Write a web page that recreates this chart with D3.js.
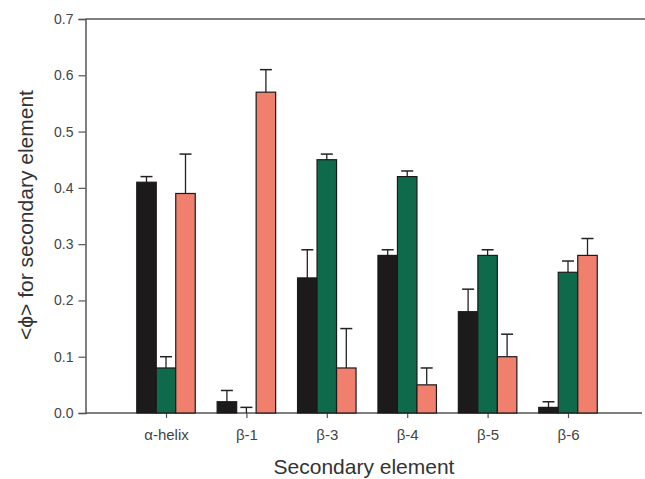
<!DOCTYPE html>
<html><head><meta charset="utf-8">
<script src="https://cdn.jsdelivr.net/npm/d3@7"></script>
<style>body{margin:0;background:#fff;}svg{display:block;font-family:Arial,"Liberation Sans",sans-serif;}</style>
</head><body><svg id="c" width="645" height="479"></svg>
<script>
const categories = ["α-helix","β-1","β-3","β-4","β-5","β-6"];
const seriesNames = ["black","green","salmon"];
const blackVals = [0.41,0.02,0.24,0.28,0.18,0.01];
const blackErr  = [0.01,0.02,0.05,0.01,0.04,0.01];
const greenVals = [0.08,0.00,0.45,0.42,0.28,0.25];
const greenErr  = [0.02,0.01,0.01,0.01,0.01,0.02];
const salmonVals = [0.39,0.57,0.08,0.05,0.10,0.28];
const salmonErr  = [0.07,0.04,0.07,0.03,0.04,0.03];
const yTicks = [0,0.1,0.2,0.3,0.4,0.5,0.6,0.7];
const colors = ["#1c1a1b","#0f6a4c","#f07f6e"];

(function(){
const svg = d3.select("#c");
const mLeft = 85.5, mTop = 19, mBottom = 413, mRight = 645;
const y = d3.scaleLinear().domain([0,0.7]).range([mBottom, mTop]);
const x = d3.scalePoint().domain(categories).range([166, 568]);
const bw = 19.5;
const series = [
  {vals: blackVals, err: blackErr},
  {vals: greenVals, err: greenErr},
  {vals: salmonVals, err: salmonErr}
];
const axisCol = "#555";

svg.append("line").attr("x1",mLeft).attr("x2",mRight).attr("y1",y(0.7)).attr("y2",y(0.7)).attr("stroke",axisCol).attr("stroke-width",1.5);
svg.append("line").attr("x1",mLeft).attr("x2",mRight-3).attr("y1",y(0)).attr("y2",y(0)).attr("stroke",axisCol).attr("stroke-width",1.5);

const ya = d3.axisLeft(y).tickValues(yTicks).tickFormat(d3.format(".1f")).tickSize(7).tickPadding(5);
const yg = svg.append("g").attr("transform",`translate(${mLeft},0)`).call(ya);
yg.select(".domain").attr("stroke",axisCol).attr("stroke-width",1.5);
yg.selectAll(".tick line").attr("stroke",axisCol).attr("stroke-width",1.2);
yg.selectAll("text").attr("fill","#444").style("font-size","14px");

const xa = d3.axisBottom(x).tickSize(5).tickPadding(8);
const xg = svg.append("g").attr("transform",`translate(0,${mBottom})`).call(xa);
xg.select(".domain").remove();
xg.selectAll(".tick line").attr("stroke",axisCol).attr("stroke-width",1.2);
xg.selectAll("text").attr("fill","#444").style("font-size","15px").attr("dy","0.95em");

series.forEach((s,si)=>{
  const g = svg.append("g");
  categories.forEach((c,i)=>{
    const cx = x(c) + (si-1)*bw;
    const v = s.vals[i], e = s.err[i];
    g.append("line").attr("x1",cx).attr("x2",cx).attr("y1",y(v)).attr("y2",y(v+e)).attr("stroke","#222").attr("stroke-width",1.3);
    g.append("line").attr("x1",cx-6).attr("x2",cx+6).attr("y1",y(v+e)).attr("y2",y(v+e)).attr("stroke","#222").attr("stroke-width",1.5);
    if (v > 0) {
      g.append("rect").attr("x",cx-bw/2).attr("width",bw).attr("y",y(v)).attr("height",y(0)-y(v))
        .attr("fill",colors[si]).attr("stroke","#1a1a1a").attr("stroke-width",1.2);
    }
  });
});

svg.append("text").attr("x",364).attr("y",474).attr("text-anchor","middle").attr("fill","#333").style("font-size","21px").text("Secondary element");
svg.append("text").attr("transform","translate(33,215) rotate(-90)").attr("text-anchor","middle").attr("fill","#333").style("font-size","21px").text("<ϕ> for secondary element");
})();
</script></body></html>
